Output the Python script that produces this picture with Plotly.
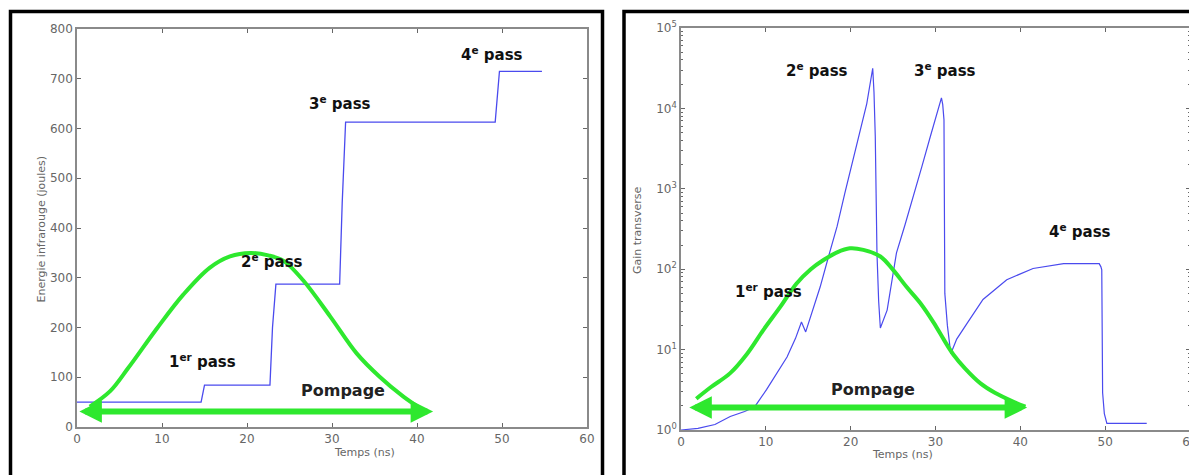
import math
import plotly.graph_objects as go

# ---------------- data ----------------
# Left: infrared energy (J) vs time (ns), staircase
energy_t = [0, 14.6, 15.0, 22.7, 23.0, 23.4, 30.9, 31.2, 31.6, 49.2, 49.7, 54.7]
energy_j = [50, 50, 84, 84, 200, 287, 287, 450, 613, 613, 715, 715]

# Left: pump pulse shape (green)
pump_left_t = [1.5, 3.9, 6.0, 9.4, 12.5, 15.6, 18.0, 20.4, 22.5, 24.3, 26.6, 29.8, 32.9, 35.6, 38.4, 40.7]
pump_left_v = [41, 72, 118, 198, 266, 320, 343, 350, 345, 334, 295, 222, 148, 101, 61, 34]

# Right: transverse gain vs time (ns)
gain_t = [0, 2, 4, 5.8, 7.5, 8.7, 10.1, 11.3, 12.5, 13.5, 14.2, 14.7, 15.5, 16.4, 17.4, 18.4,
          19.3, 20.3, 21.1, 21.9, 22.6, 22.75, 22.9, 23.1, 23.3, 23.5, 24.3, 25.4, 26.4, 27.4,
          28.4, 29.4, 30.1, 30.7, 30.85, 31.0, 31.1, 31.4, 31.8, 32.5, 33.7, 35.6, 38.4, 41.5,
          45.1, 49.3, 49.5, 49.6, 49.7, 49.9, 50.2, 54.9]
gain_v = [1, 1.05, 1.17, 1.47, 1.7, 1.95, 3.2, 5.0, 8.1, 13.8, 22, 16.6, 29.5, 60, 145, 340,
          870, 2300, 5200, 11500, 31600, 15800, 4500, 160, 40, 18.6, 31, 160, 355, 800,
          1900, 4500, 7900, 13500, 11200, 7200, 50, 20, 8.9, 13.5, 21, 42, 74, 102,
          117, 117, 107, 98, 2.9, 1.6, 1.21, 1.21]

# Right: pump pulse shape (green)
pump_right_t = [1.8, 3.5, 5.8, 7.8, 9.7, 11.7, 13.6, 15.3, 16.8, 18.4, 19.9, 21.5, 23.5, 25.0,
                26.6, 28.2, 29.8, 31.0, 32.1, 33.5, 35.3, 37.0, 39.2, 40.6]
pump_right_v = [2.45, 3.4, 5.1, 8.9, 17.5, 34, 66, 100, 130, 162, 182, 174, 144, 98,
                60, 38, 21.5, 13.2, 8.7, 5.8, 3.8, 2.9, 2.24, 1.95]

# Pump duration arrows (start, end, level)
pump_arrow_left = (0.1, 41.9, 31)
pump_arrow_right = (0.8, 40.8, 1.9)

# Text labels: (text, x, y)
labels_left = [("1<sup>er</sup> pass", 14.8, 133), ("2<sup>e</sup> pass", 22.9, 334),
               ("3<sup>e</sup> pass", 30.9, 651), ("4<sup>e</sup> pass", 48.8, 750)]
labels_right = [("1<sup>er</sup> pass", 10.3, 54), ("2<sup>e</sup> pass", 16.0, 30000),
                ("3<sup>e</sup> pass", 31.1, 30000), ("4<sup>e</sup> pass", 47, 300)]
pompage_left = (31.3, 74)
pompage_right = (22.6, 3.2)

x_ticks = [0, 10, 20, 30, 40, 50, 60]
y_ticks_left = [0, 100, 200, 300, 400, 500, 600, 700, 800]
y_ticks_right = [1, 10, 100, 1000, 10000, 100000]
y_ticktext_right = ["10<sup>0</sup>", "10<sup>1</sup>", "10<sup>2</sup>", "10<sup>3</sup>",
                    "10<sup>4</sup>", "10<sup>5</sup>"]

# ---------------- figure ----------------
W, H = 1197, 475
OFF = 8  # page body margin compensation (px)
BLUE = "#4a4aee"
GREEN = "#2ee82e"


def px(x):
    return (x - OFF) / W


def py(y):
    return 1 - (y - OFF) / H


fig = go.Figure()
fig.add_trace(go.Scatter(x=energy_t, y=energy_j, mode="lines", line=dict(color=BLUE, width=1.3),
                         xaxis="x", yaxis="y", showlegend=False))
fig.add_trace(go.Scatter(x=pump_left_t, y=pump_left_v, mode="lines", line_shape="spline",
                         line=dict(color=GREEN, width=4), xaxis="x", yaxis="y", showlegend=False))
fig.add_trace(go.Scatter(x=gain_t, y=gain_v, mode="lines", line=dict(color=BLUE, width=1.2),
                         xaxis="x2", yaxis="y2", showlegend=False))
fig.add_trace(go.Scatter(x=pump_right_t, y=pump_right_v, mode="lines", line_shape="spline",
                         line=dict(color=GREEN, width=4), xaxis="x2", yaxis="y2", showlegend=False))

tickfont = dict(family="DejaVu Sans", size=12, color="#666")
common = dict(showline=True, linecolor="#8a8a8a", linewidth=1.5, mirror="ticks", ticks="inside",
              ticklen=4, tickcolor="#666", showgrid=False, zeroline=False, tickfont=tickfont,
              automargin=False)

minor_vals = [m * 10 ** k for k in range(5) for m in range(2, 10)]

fig.update_layout(
    width=W, height=H, margin=dict(l=0, r=0, t=0, b=0, autoexpand=False),
    paper_bgcolor="white", plot_bgcolor="white",
    xaxis=dict(domain=[px(77), px(587)], range=[0, 60], tickvals=x_ticks, anchor="y", **common),
    yaxis=dict(domain=[py(427), py(29)], range=[0, 800], tickvals=y_ticks_left,
               anchor="x", **common),
    xaxis2=dict(domain=[px(681), px(1190)], range=[0, 60], tickvals=x_ticks, anchor="y2", **common),
    yaxis2=dict(domain=[py(430), py(28)], type="log", range=[0, 5], tickvals=y_ticks_right,
                ticktext=y_ticktext_right, anchor="x2",
                minor=dict(ticks="inside", ticklen=2, tickcolor="#666", tickvals=minor_vals,
                           showgrid=False),
                **common),
)

lab_font = dict(family="DejaVu Sans", size=15, color="#111")
ann = []
for txt, x, y in labels_left:
    ann.append(dict(text="<b>" + txt + "</b>", x=x, y=y, xref="x", yref="y", showarrow=False,
                    font=lab_font, xanchor="center", yanchor="middle"))
for txt, x, y in labels_right:
    ann.append(dict(text="<b>" + txt + "</b>", x=x, y=math.log10(y), xref="x2", yref="y2",
                    showarrow=False, font=lab_font, xanchor="center", yanchor="middle"))
pom_font = dict(family="DejaVu Sans", size=16, color="#222")
ann.append(dict(text="<b>Pompage</b>", x=pompage_left[0], y=pompage_left[1], xref="x", yref="y",
                showarrow=False, font=pom_font))
ann.append(dict(text="<b>Pompage</b>", x=pompage_right[0], y=math.log10(pompage_right[1]),
                xref="x2", yref="y2", showarrow=False, font=pom_font))

# pump arrows
x0, x1, lv = pump_arrow_left
ann.append(dict(x=x1, y=lv, ax=x0, ay=lv, xref="x", yref="y", axref="x", ayref="y", text="",
                showarrow=True, arrowhead=2, arrowside="end+start", arrowsize=0.75, arrowwidth=6,
                arrowcolor=GREEN, standoff=0, startstandoff=0))
x0, x1, lv = pump_arrow_right
ann.append(dict(x=x1, y=math.log10(lv), ax=x0, ay=math.log10(lv), xref="x2", yref="y2",
                axref="x2", ayref="y2", text="", showarrow=True, arrowhead=2,
                arrowside="end+start", arrowsize=0.75, arrowwidth=6, arrowcolor=GREEN,
                standoff=0, startstandoff=0))

# axis titles
tf = dict(family="DejaVu Sans", size=11, color="#666")
ann.append(dict(text="Temps (ns)", x=px(332), y=py(461), xref="paper", yref="paper",
                showarrow=False, font=tf))
ann.append(dict(text="Temps (ns)", x=px(935), y=py(463), xref="paper", yref="paper",
                showarrow=False, font=tf))
ann.append(dict(text="Energie infrarouge (joules)", x=px(32), y=py(229), xref="paper",
                yref="paper", showarrow=False, textangle=-90, font=tf))
ann.append(dict(text="Gain transverse", x=px(637), y=py(230), xref="paper", yref="paper",
                showarrow=False, textangle=-90, font=tf))

fig.update_layout(annotations=ann)

# panel frames
fig.update_layout(shapes=[
    dict(type="rect", xref="paper", yref="paper", x0=px(10.5), x1=px(602.5), y0=-0.05,
         y1=py(11.5), line=dict(color="black", width=3.5)),
    dict(type="rect", xref="paper", yref="paper", x0=px(624), x1=1.02, y0=-0.05,
         y1=py(11.5), line=dict(color="black", width=3.5)),
])

fig.write_html("out.html")
